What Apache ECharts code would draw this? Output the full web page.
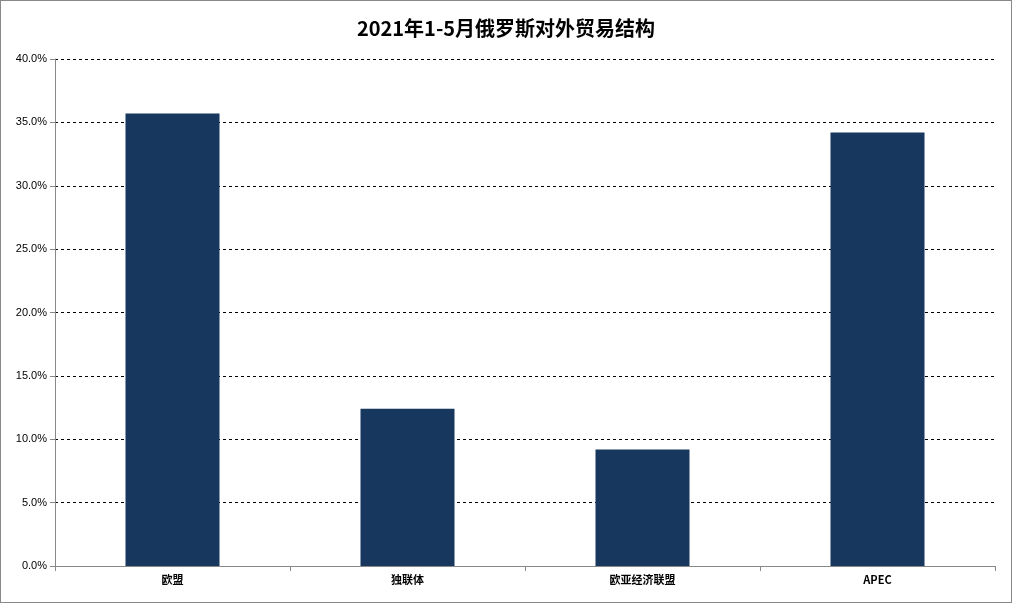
<!DOCTYPE html>
<html><head><meta charset="utf-8">
<script src="https://cdn.jsdelivr.net/npm/echarts@6/dist/echarts.min.js"></script>
<style>html,body{margin:0;padding:0;background:#fff}#c{width:1012px;height:603px;box-sizing:border-box;border:1px solid #888}</style>
</head><body><div id="c"></div>
<script>
const categories = ['欧盟','独联体','欧亚经济联盟','APEC'];
const values = [35.7, 12.4, 9.2, 34.2];
const chart = echarts.init(document.getElementById('c'));
chart.setOption({
  animation:false,
  title:{text:'2021年1-5月俄罗斯对外贸易结构',left:'center',top:12,textStyle:{fontSize:20,fontWeight:'bold',color:'#000',fontFamily:'Noto Sans CJK SC'}},
  grid:{left:54,right:16,top:58,bottom:36},
  xAxis:{type:'category',data:categories,axisLine:{lineStyle:{color:'#888'}},axisTick:{show:true,lineStyle:{color:'#888'}},
    axisLabel:{color:'#000',fontWeight:'bold',fontSize:11,fontFamily:'Noto Sans CJK SC'}},
  yAxis:{type:'value',min:0,max:40,interval:5,axisLine:{show:true,lineStyle:{color:'#888'}},axisTick:{show:true,lineStyle:{color:'#888'}},
    axisLabel:{formatter:v=>v.toFixed(1)+'%',color:'#000',fontSize:11,fontFamily:'Liberation Sans'},
    splitLine:{lineStyle:{type:[3,3],color:'#000'}}},
  series:[{type:'bar',data:values,barWidth:'40%',itemStyle:{color:'#17375e'}}]
});
</script></body></html>
